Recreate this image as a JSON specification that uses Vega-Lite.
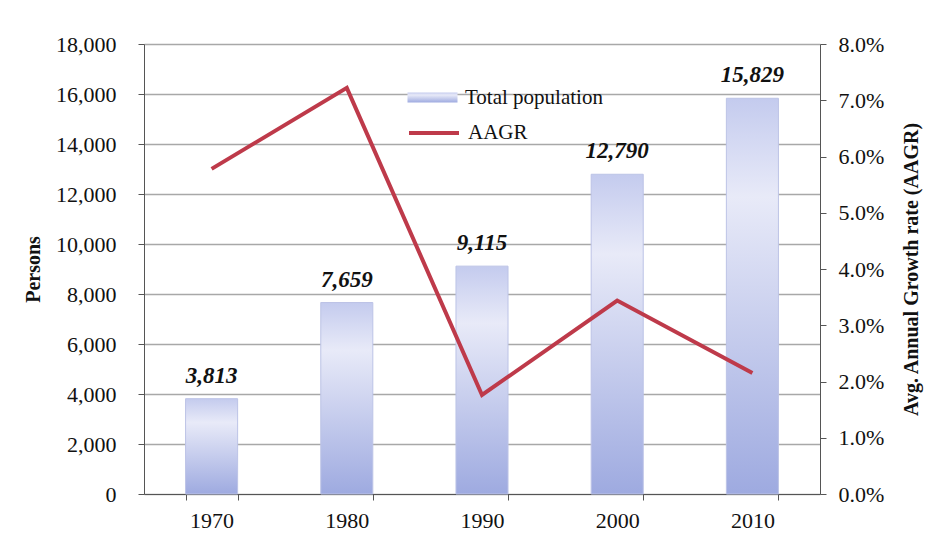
{
  "$schema": "https://vega.github.io/schema/vega-lite/v6.json",
  "width": 676,
  "height": 450,
  "autosize": "none",
  "padding": {"left": 144, "top": 44, "right": 109, "bottom": 66},
  "background": "white",
  "config": {
    "font": "Liberation Serif",
    "view": {"stroke": null},
    "axis": {"labelFont": "Liberation Serif", "titleFont": "Liberation Serif", "labelColor": "#111", "titleColor": "#111", "domainColor": "#555", "tickColor": "#555"},
    "legend": {"labelFont": "Liberation Serif", "labelFontSize": 21, "labelColor": "#111", "padding": 0, "title": null}
  },
  "data": {
    "values": [
      {"year": "1970", "pop": 3813, "aagr": 0.0578},
      {"year": "1980", "pop": 7659, "aagr": 0.0722},
      {"year": "1990", "pop": 9115, "aagr": 0.0176},
      {"year": "2000", "pop": 12790, "aagr": 0.0344},
      {"year": "2010", "pop": 15829, "aagr": 0.0215}
    ]
  },
  "encoding": {
    "x": {
      "field": "year",
      "type": "ordinal",
      "scale": {"paddingInner": 0.615, "paddingOuter": 0.3075},
      "axis": {"title": null, "labelAngle": 0, "labelFontSize": 22, "tickBand": "extent", "tickSize": 6, "labelPadding": 10, "grid": false, "domainWidth": 1}
    }
  },
  "layer": [
    {
      "encoding": {
        "y": {
          "field": "pop",
          "type": "quantitative",
          "scale": {"domain": [0, 18000]},
          "axis": {
            "title": "Persons",
            "titleFontSize": 20,
            "titleFontWeight": "bold",
            "titlePadding": 12,
            "labelFontSize": 22,
            "format": ",.0f",
            "values": [0, 2000, 4000, 6000, 8000, 10000, 12000, 14000, 16000, 18000],
            "grid": true,
            "gridColor": "#a8a8a8",
            "gridWidth": 1.5,
            "tickSize": 6,
            "labelPadding": 22
          }
        }
      },
      "layer": [
        {
          "mark": {
            "type": "bar",
            "strokeWidth": 1,
            "stroke": "#bcc3e6",
            "fill": {
              "gradient": "linear",
              "x1": 0, "y1": 0, "x2": 0, "y2": 1,
              "stops": [
                {"offset": 0, "color": "#c4cbee"},
                {"offset": 0.25, "color": "#e8eaf8"},
                {"offset": 1, "color": "#9eaae0"}
              ]
            }
          },
          "encoding": {
            "opacity": {
              "datum": "Total population",
              "type": "nominal",
              "scale": {"domain": ["Total population"], "range": [1]},
              "legend": {
                "orient": "none",
                "legendX": 278,
                "legendY": 43,
                "symbolSize": 400,
                "symbolType": "M-2.5,-0.5H2.5V0.5H-2.5Z",
                "symbolStrokeWidth": 0,
                "symbolOpacity": 1,
                "labelOffset": 22
              }
            }
          }
        },
        {
          "mark": {"type": "text", "fontStyle": "italic", "fontWeight": "bold", "fontSize": 23, "baseline": "alphabetic", "dy": -16, "color": "#111"},
          "encoding": {
            "text": {"field": "pop", "type": "quantitative", "format": ","}
          }
        }
      ]
    },
    {
      "mark": {"type": "line", "color": "#be3a4a"},
      "encoding": {
        "y": {
          "field": "aagr",
          "type": "quantitative",
          "scale": {"domain": [0, 0.08]},
          "axis": {
            "orient": "right",
            "title": "Avg. Annual Growth rate (AAGR)",
            "titleFontSize": 20,
            "titleFontWeight": "bold",
            "titleAngle": 270,
            "titlePadding": 38,
            "labelFontSize": 22,
            "format": ".1%",
            "values": [0, 0.01, 0.02, 0.03, 0.04, 0.05, 0.06, 0.07, 0.08],
            "grid": false,
            "tickSize": 6,
            "labelPadding": 12
          }
        },
        "strokeWidth": {
          "datum": "AAGR",
          "type": "nominal",
          "scale": {"type": "ordinal", "domain": ["AAGR"], "range": [4]},
          "legend": {
            "orient": "none",
            "legendX": 278,
            "legendY": 77,
            "symbolSize": 400,
            "symbolType": "M-2.5,0H2.5",
            "symbolStrokeColor": "#be3a4a",
            "symbolFillColor": "transparent",
            "labelOffset": 22
          }
        }
      }
    }
  ],
  "resolve": {"scale": {"y": "independent"}}
}
